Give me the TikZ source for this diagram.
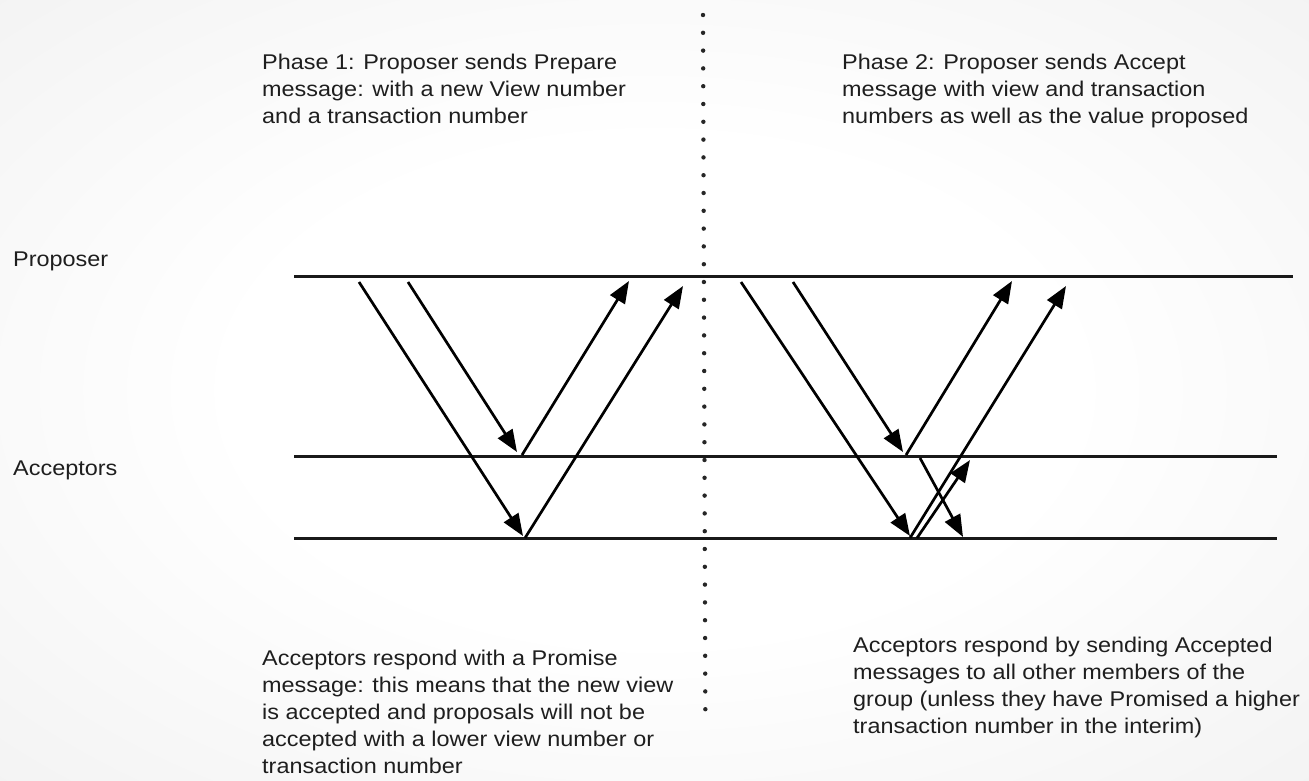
\documentclass[tikz,border=0pt]{standalone}
\usepackage{fontspec}
\setmainfont{Liberation Sans}[FakeStretch=1.1]
\usetikzlibrary{arrows.meta}
\definecolor{inkgray}{RGB}{30,30,30}
\pgfdeclareradialshading{slidebg}{\pgfpoint{0bp}{0bp}}{color(0bp)=(white); color(16bp)=(white); color(50bp)=(black!8); color(72bp)=(black!14)}

\begin{document}
\begin{tikzpicture}[x=1pt, y=-1pt,
  timeline/.style={line width=3pt, black!90},
  msg/.style={line width=2.7pt, -{Triangle[length=22pt,width=17pt]}},
  note/.style={anchor=north west, inner sep=0pt, align=left, text=inkgray,
    font=\fontsize{21.3}{27}\selectfont}]
  % Background
  \shade[shading=slidebg] (0,0) rectangle (1309,780);
  \useasboundingbox (0,0) rectangle (1309,780);
  % Phase divider
  \foreach \i in {0,...,39}
    \fill[black!85] ({703+0.06*\i},{15+17.8*\i}) circle (2.2pt);
  % Timelines
  \coordinate (propL) at (294,276);  \coordinate (propR) at (1293,276);
  \coordinate (accAL) at (294,456);  \coordinate (accAR) at (1277,456);
  \coordinate (accBL) at (294,538);  \coordinate (accBR) at (1277,538);
  \draw[timeline] (propL) -- (propR);
  \draw[timeline] (accAL) -- (accAR);
  \draw[timeline] (accBL) -- (accBR);
  \node[note] (proplabel) at (13,252) {Proposer};
  \node[note] (acclabel) at (13,461) {Acceptors};
  % Phase 1: prepare and promise
  \coordinate (prepA) at (359,282);  \coordinate (prepAend) at (523,536);
  \coordinate (prepB) at (408,282);  \coordinate (prepBend) at (517,452);
  \coordinate (promA) at (522,455);  \coordinate (promAend) at (629,281);
  \coordinate (promB) at (525,538);  \coordinate (promBend) at (683,286);
  \draw[msg] (prepA) -- (prepAend);
  \draw[msg] (prepB) -- (prepBend);
  \draw[msg] (promA) -- (promAend);
  \draw[msg] (promB) -- (promBend);
  % Phase 2: accept and accepted
  \coordinate (accptA) at (741,282);  \coordinate (accptAend) at (910,536);
  \coordinate (accptB) at (793,282);  \coordinate (accptBend) at (903,452);
  \coordinate (doneA) at (906,455);   \coordinate (doneAend) at (1012,281);
  \coordinate (doneB) at (910,538);   \coordinate (doneBend) at (1066,286);
  \coordinate (peerA) at (920,458);   \coordinate (peerAend) at (963,537);
  \coordinate (peerB) at (917,538);   \coordinate (peerBend) at (970,460);
  \draw[msg] (accptA) -- (accptAend);
  \draw[msg] (accptB) -- (accptBend);
  \draw[msg] (doneA) -- (doneAend);
  \draw[msg] (doneB) -- (doneBend);
  \draw[msg] (peerA) -- (peerAend);
  \draw[msg] (peerB) -- (peerBend);
  % Notes
  \node[note] (phaseone) at (262,54) {Phase 1: Proposer sends Prepare\\message: with a new View number\\and a transaction number};
  \node[note] (phasetwo) at (842,54) {Phase 2: Proposer sends Accept\\message with view and transaction\\numbers as well as the value proposed};
  \node[note] (promise) at (262,650) {Acceptors respond with a Promise\\message: this means that the new view\\is accepted and proposals will not be\\accepted with a lower view number or\\transaction number};
  \node[note] (accepted) at (853,637) {Acceptors respond by sending Accepted\\messages to all other members of the\\group (unless they have Promised a higher\\transaction number in the interim)};
\end{tikzpicture}
\end{document}
